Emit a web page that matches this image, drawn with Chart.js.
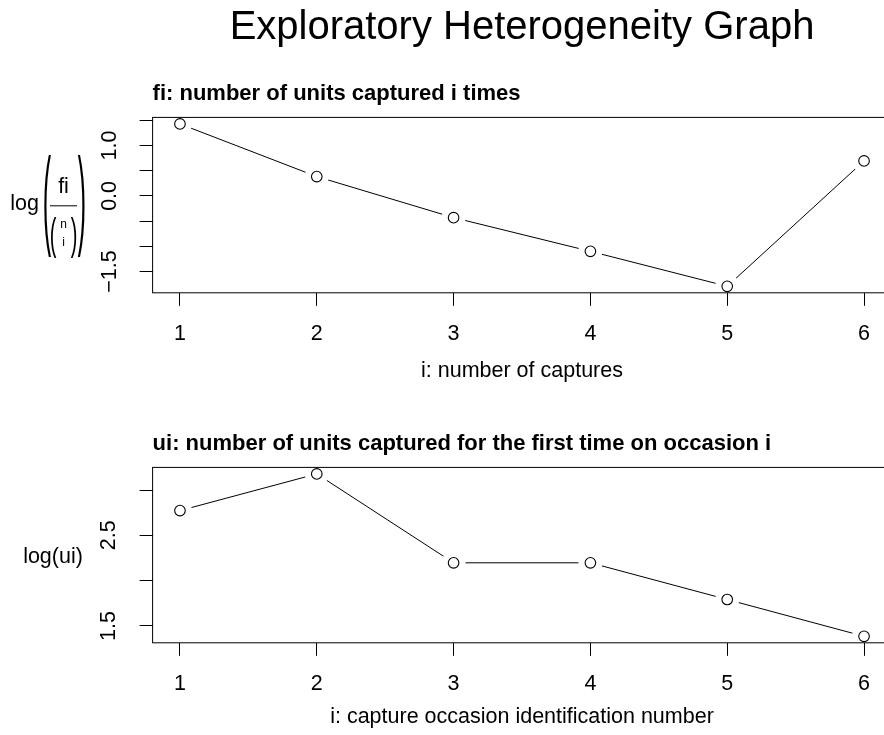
<!DOCTYPE html>
<html>
<head>
<meta charset="utf-8">
<script src="https://cdn.jsdelivr.net/npm/chart.js@4.4.1/dist/chart.umd.min.js"></script>
<style>
    body { margin: 0; background: #fff; overflow: hidden; }
    #wrap { position: relative; width: 884px; height: 735px; overflow: hidden; background: #fff; }
    canvas { position: absolute; left: 0; }
</style>
</head>
<body>
<div id="wrap">
    <canvas id="fiChart" width="892" height="389" style="top:0px"></canvas>
    <canvas id="uiChart" width="892" height="385" style="top:350px"></canvas>
</div>
<script>
// data
const captureNumbers = [1, 2, 3, 4, 5, 6];
const logFiRatio = [1.427, 0.383, -0.431, -1.099, -1.792, 0.693];
const occasionNumbers = [1, 2, 3, 4, 5, 6];
const logUi = [2.773, 3.178, 2.197, 2.197, 1.792, 1.386];

const xTicks = [1, 2, 3, 4, 5, 6];
const fiTicks = [-1.5, -1, -0.5, 0, 0.5, 1, 1.5];
const fiLabelValues = [1, 0, -1.5];
const fiLabelTexts = ['1.0', '0.0', '\u22121.5'];
const uiTicks = [1.5, 2, 2.5, 3];
const uiLabelValues = [2.5, 1.5];
const uiLabelTexts = ['2.5', '1.5'];

const FONT = "'Liberation Sans', Arial, Helvetica, sans-serif";
const TXT = 21.5;
const plotLeft = 152.6;
const plotTop = 117.4;
const plotBottom = 292.8;

// R style range: data range padded by 4% on each side
function paddedRange(vals) {
    const lo = Math.min(...vals), hi = Math.max(...vals);
    const pad = (hi - lo) * 0.04;
    return [lo - pad, hi + pad];
}

// box round the plot region, panel title, main title and horizontal y title
const rDecor = {
    id: 'rDecor',
    afterDatasetsDraw(chart, args, opts) {
        const ctx = chart.ctx;
        const a = chart.chartArea;
        ctx.save();
        ctx.strokeStyle = '#000';
        ctx.lineWidth = 1;
        ctx.strokeRect(a.left, a.top, a.right - a.left, a.bottom - a.top);

        ctx.fillStyle = '#000';
        if (opts.main) {
            ctx.font = '40px ' + FONT;
            ctx.textAlign = 'center';
            ctx.textBaseline = 'alphabetic';
            ctx.fillText(opts.main, (a.left + a.right) / 2, 39);
        }
        ctx.font = 'bold 22px ' + FONT;
        ctx.textAlign = 'left';
        ctx.textBaseline = 'alphabetic';
        ctx.fillText(opts.sub, a.left, 99.5);

        const cy = (a.top + a.bottom) / 2;
        if (opts.yTitle === 'fraction') {
            drawFraction(ctx, cy);
        } else {
            ctx.font = TXT + 'px ' + FONT;
            ctx.textAlign = 'center';
            ctx.fillText(opts.yTitle, 53, cy + 8);
        }
        ctx.restore();
    }
};

// stretched bracket glyph spanning top..bottom
function bracket(ctx, ch, x, top, bottom, size) {
    const glyphH = 0.938 * size;
    const sy = (bottom - top) / glyphH;
    ctx.save();
    ctx.translate(x, bottom);
    ctx.scale(1, sy);
    ctx.font = size + 'px ' + FONT;
    ctx.textAlign = 'center';
    ctx.textBaseline = 'alphabetic';
    ctx.fillText(ch, 0, -0.21 * size);
    ctx.restore();
}

// log( fi / (n over i) )
function drawFraction(ctx, cy) {
    ctx.font = TXT + 'px ' + FONT;
    ctx.textAlign = 'right';
    ctx.textBaseline = 'alphabetic';
    ctx.fillText('log', 39, cy + 5);

    bracket(ctx, '(', 47, cy - 50, cy + 52, 25);
    bracket(ctx, ')', 82, cy - 50, cy + 52, 25);

    ctx.font = TXT + 'px ' + FONT;
    ctx.textAlign = 'center';
    ctx.fillText('fi', 63.5, cy - 12);
    ctx.beginPath();
    ctx.lineWidth = 1;
    ctx.moveTo(50, cy + 0.7);
    ctx.lineTo(77, cy + 0.7);
    ctx.stroke();

    bracket(ctx, '(', 53, cy + 12, cy + 53, 20);
    bracket(ctx, ')', 74, cy + 12, cy + 53, 20);
    ctx.font = '12px ' + FONT;
    ctx.textAlign = 'center';
    ctx.textBaseline = 'middle';
    ctx.fillText('n', 63.5, cy + 20);
    ctx.fillText('i', 63.5, cy + 38);
}

function buildPanel(canvasId, xs, ys, yTicks, labelValues, labelTexts, yPad, decor) {
    const canvas = document.getElementById(canvasId);
    const points = xs.map((x, i) => ({x: x, y: ys[i]}));
    const [xMin, xMax] = paddedRange(xs);
    const [yMin, yMax] = paddedRange(ys);

    return new Chart(canvas, {
        type: 'scatter',
        data: {
            datasets: [
                {
                    // connecting segments
                    data: points,
                    showLine: true,
                    borderColor: '#000',
                    borderWidth: 1,
                    pointRadius: 0,
                    order: 3
                },
                {
                    // white gap round each point, like type = "b"
                    data: points,
                    pointRadius: 12,
                    pointBorderWidth: 0,
                    pointBackgroundColor: '#fff',
                    clip: 0,
                    order: 2
                },
                {
                    data: points,
                    pointRadius: 5.3,
                    pointBorderWidth: 1.1,
                    pointBorderColor: '#000',
                    pointBackgroundColor: '#fff',
                    clip: false,
                    order: 1
                }
            ]
        },
        options: {
            responsive: false,
            animation: false,
            events: [],
            layout: {
                autoPadding: false,
                padding: {top: plotTop, left: 0, right: 0.6, bottom: 0}
            },
            plugins: {
                legend: {display: false},
                tooltip: {enabled: false},
                rDecor: decor
            },
            scales: {
                x: {
                    type: 'linear',
                    min: xMin,
                    max: xMax,
                    afterBuildTicks: scale => { scale.ticks = xTicks.map(v => ({value: v})); },
                    afterFit: scale => {
                        scale.height = canvas.height - plotBottom;
                        scale.paddingLeft = 0;
                        scale.paddingRight = 0;
                    },
                    grid: {drawOnChartArea: false, color: '#000', tickLength: 13},
                    border: {display: false},
                    ticks: {
                        autoSkip: false,
                        maxRotation: 0,
                        padding: 15.2,
                        color: '#000',
                        font: {family: FONT, size: TXT},
                        callback: v => String(v)
                    },
                    title: {
                        display: true,
                        text: decor.xTitle,
                        color: '#000',
                        font: {family: FONT, size: TXT},
                        padding: {top: 0, bottom: 5}
                    }
                },
                y: {
                    type: 'linear',
                    min: yMin,
                    max: yMax,
                    afterBuildTicks: scale => { scale.ticks = yTicks.map(v => ({value: v})); },
                    afterFit: scale => { scale.width = plotLeft; },
                    grid: {drawOnChartArea: false, color: '#000', tickLength: 13},
                    border: {display: false},
                    ticks: {
                        autoSkip: false,
                        minRotation: 90,
                        maxRotation: 90,
                        crossAlign: 'center',
                        padding: yPad,
                        color: '#000',
                        font: {family: FONT, size: TXT},
                        callback: v => {
                            const k = labelValues.indexOf(v);
                            return k >= 0 ? labelTexts[k] : '';
                        }
                    }
                }
            }
        },
        plugins: [rDecor]
    });
}

buildPanel('fiChart', captureNumbers, logFiRatio, fiTicks, fiLabelValues, fiLabelTexts, 8.8, {
    main: 'Exploratory Heterogeneity Graph',
    sub: 'fi: number of units captured i times',
    xTitle: 'i: number of captures',
    yTitle: 'fraction'
});

buildPanel('uiChart', occasionNumbers, logUi, uiTicks, uiLabelValues, uiLabelTexts, 15.1, {
    main: null,
    sub: 'ui: number of units captured for the first time on occasion i',
    xTitle: 'i: capture occasion identification number',
    yTitle: 'log(ui)'
});
</script>
</body>
</html>
